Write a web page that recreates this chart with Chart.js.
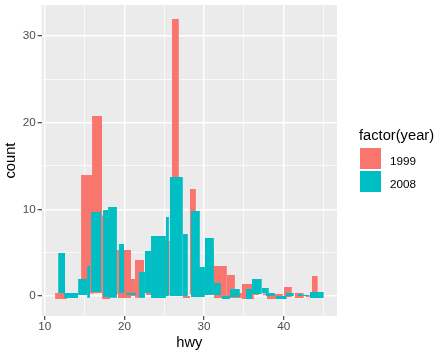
<!DOCTYPE html>
<html>
<head>
<meta charset="utf-8">
<script src="https://cdn.jsdelivr.net/npm/chart.js@4.4.0/dist/chart.umd.min.js"></script>
<style>
    html, body { margin: 0; padding: 0; background: #ffffff; }
    #wrap { position: relative; width: 438px; height: 353px; font-family: "Liberation Sans", Arial, sans-serif; }
    #histChart { position: absolute; left: 0; top: 0; }
    .legend-title { position: absolute; left: 359px; top: 128px; font-size: 14.7px; line-height: 15px; color: #000000; white-space: nowrap; }
    .legend-key { position: absolute; left: 360px; width: 21px; height: 21px; }
    .legend-label { position: absolute; left: 390px; font-size: 11.7px; line-height: 12px; color: #000000; }
</style>
</head>
<body>
<div id="wrap">
    <canvas id="histChart" width="438" height="353"></canvas>
    <div id="legend"></div>
</div>
<script>
// ==========================================
// hwy histogram, fill = factor(year), jittered bars
// ==========================================

const years = ['1999', '2008'];

// 1999 bars (one per bin, jitter included)
const xmin1999 = [11.29, 12.67, 13.93, 14.55, 15.93, 17.19, 18.07, 19.18, 20.45, 21.33, 22.71, 23.34, 24.84, 25.97, 27.34, 28.23, 29.23, 30.24, 31.24, 32.87, 33.63, 34.76, 36.26, 37.40, 37.89, 39.10, 40.03, 41.41, 42.78, 43.54];
const xmax1999 = [12.80, 13.55, 14.93, 16.19, 17.19, 18.19, 19.18, 20.83, 21.33, 22.46, 23.59, 24.46, 25.70, 26.84, 28.23, 28.98, 30.11, 31.24, 32.87, 33.88, 34.76, 36.26, 36.89, 38.00, 39.90, 39.90, 41.03, 42.53, 43.29, 44.29];
const ymin1999 = [-0.35, -0.10, 0.15, 0.30, 0.35, -0.35, 0.20, -0.23, 0.00, -0.20, 0.12, 0.20, 0.10, 0.20, -0.23, 0.20, 0.20, 0.20, -0.23, -0.23, -0.23, -0.35, 0.12, 0.10, -0.35, -0.20, -0.12, -0.23, -0.12, 0.35];
const ymax1999 = [0.35, 0.20, 0.30, 13.96, 20.76, 9.30, 5.31, 5.31, 1.96, 4.15, 0.35, 5.00, 6.34, 31.95, 0.00, 12.34, 3.00, 5.50, 3.46, 2.42, 0.35, 1.38, 0.23, 0.30, 0.23, 0.00, 1.04, 0.35, 0.12, 2.31];

// 2008 bars
const xmin2008 = [11.67, 12.42, 14.18, 15.31, 15.81, 17.31, 17.94, 19.32, 20.20, 21.83, 22.58, 23.34, 25.21, 25.70, 27.34, 28.36, 28.98, 30.11, 31.24, 32.25, 33.25, 35.26, 36.01, 37.26, 37.76, 39.02, 40.28, 41.78, 42.28, 43.29];
const xmax2008 = [12.55, 14.18, 15.31, 15.68, 17.06, 17.94, 19.06, 19.95, 21.46, 22.58, 23.34, 25.21, 25.59, 27.34, 27.97, 29.48, 30.11, 31.24, 32.12, 33.25, 34.50, 36.01, 37.26, 38.14, 38.90, 40.40, 41.28, 42.28, 43.16, 45.04];
const ymin2008 = [0.35, -0.23, 0.12, -0.20, 0.46, -0.08, -0.20, 0.35, 0.12, -0.20, 0.35, -0.23, 0.00, 0.00, 0.00, -0.12, -0.12, 0.12, 0.12, -0.35, -0.12, -0.35, 0.23, 0.35, 0.00, -0.35, 0.00, 0.00, 0.00, -0.23];
const ymax2008 = [4.96, 0.35, 1.96, 3.46, 9.69, 9.92, 10.27, 6.00, 0.35, 2.77, 5.19, 6.92, 9.11, 13.73, 7.15, 9.80, 3.34, 6.69, 1.50, 0.00, 0.81, 0.81, 1.96, 0.92, 0.35, 0.00, 0.35, 0.23, 0.12, 0.46];

// axis ticks
const xMajorTicks = [10, 20, 30, 40];
const xMinorTicks = [15, 25, 35, 45];
const yMajorTicks = [0, 10, 20, 30];
const yMinorTicks = [5, 15, 25];

const FONT = '"Liberation Sans", Arial, sans-serif';
const COLOR_1999 = '#F8766D';
const COLOR_2008 = '#00BFC4';

// every bar is a flat two-point line filled down to its own ymin
function barDatasets(xmin, xmax, ymin, ymax, color, order) {
    return xmin.map((x0, i) => ({
        label: '',
        data: [{ x: x0, y: ymax[i] }, { x: xmax[i], y: ymax[i] }],
        fill: { value: ymin[i] },
        backgroundColor: color,
        borderColor: 'rgba(0, 0, 0, 0)',
        borderWidth: 0,
        pointRadius: 0,
        pointHoverRadius: 0,
        tension: 0,
        order: order
    }));
}

const panelBackground = {
    id: 'panelBackground',
    beforeDraw(chart) {
        const { ctx, chartArea } = chart;
        ctx.save();
        ctx.fillStyle = '#EBEBEB';
        ctx.fillRect(chartArea.left, chartArea.top, chartArea.width, chartArea.height);
        ctx.restore();
    }
};

function axisConfig(major, minor, min, max, title, labelPad, titlePad) {
    const isMajor = ctx => ctx.tick && major.includes(ctx.tick.value);
    const isMinor = ctx => ctx.tick && minor.includes(ctx.tick.value);
    return {
        type: 'linear',
        min: min,
        max: max,
        afterBuildTicks: scale => {
            scale.ticks = [min].concat(major, minor, [max]).sort((a, b) => a - b).map(v => ({ value: v }));
        },
        // the panel runs right to the layout padding, like ggplot's
        afterFit: scale => {
            scale.paddingTop = 0;
            scale.paddingBottom = 0;
            scale.paddingLeft = 0;
            scale.paddingRight = 0;
        },
        grid: {
            color: ctx => (isMajor(ctx) || isMinor(ctx)) ? '#FFFFFF' : 'rgba(0, 0, 0, 0)',
            lineWidth: ctx => isMajor(ctx) ? 1.4 : 0.7,
            tickColor: ctx => isMajor(ctx) ? '#333333' : 'rgba(0, 0, 0, 0)',
            tickLength: 4,
            tickWidth: 1.1
        },
        border: { display: false },
        ticks: {
            color: '#4D4D4D',
            font: { family: FONT, size: 11.7 },
            padding: labelPad,
            autoSkip: false,
            maxRotation: 0,
            callback: v => major.includes(v) ? String(v) : (minor.includes(v) ? '' : null)
        },
        title: {
            display: true,
            text: title,
            color: '#000000',
            font: { family: FONT, size: 14.7 },
            padding: titlePad
        }
    };
}

new Chart(document.getElementById('histChart'), {
    type: 'line',
    data: {
        datasets: barDatasets(xmin2008, xmax2008, ymin2008, ymax2008, COLOR_2008, 0)
            .concat(barDatasets(xmin1999, xmax1999, ymin1999, ymax1999, COLOR_1999, 1))
    },
    options: {
        responsive: false,
        animation: false,
        layout: { padding: { left: 1, right: 101, top: 5, bottom: 0 } },
        plugins: {
            legend: { display: false },
            tooltip: { enabled: false }
        },
        scales: {
            x: axisConfig(xMajorTicks, xMinorTicks, 9.6, 46.7, 'hwy', 0, { top: 0.3, bottom: 1 }),
            y: axisConfig(yMajorTicks, yMinorTicks, -2.3, 33.56, 'count', 2, { top: 1, bottom: 1 })
        }
    },
    plugins: [panelBackground]
});

// legend (ggplot style, on the right)
const legend = document.getElementById('legend');
const colors = [COLOR_1999, COLOR_2008];
legend.innerHTML = '<div class="legend-title">factor(year)</div>' + years.map((year, i) => `
    <div class="legend-key" style="top:${148 + i * 23}px;background:${colors[i]}"></div>
    <div class="legend-label" style="top:${155 + i * 23}px">${year}</div>
`).join('');
</script>
</body>
</html>
